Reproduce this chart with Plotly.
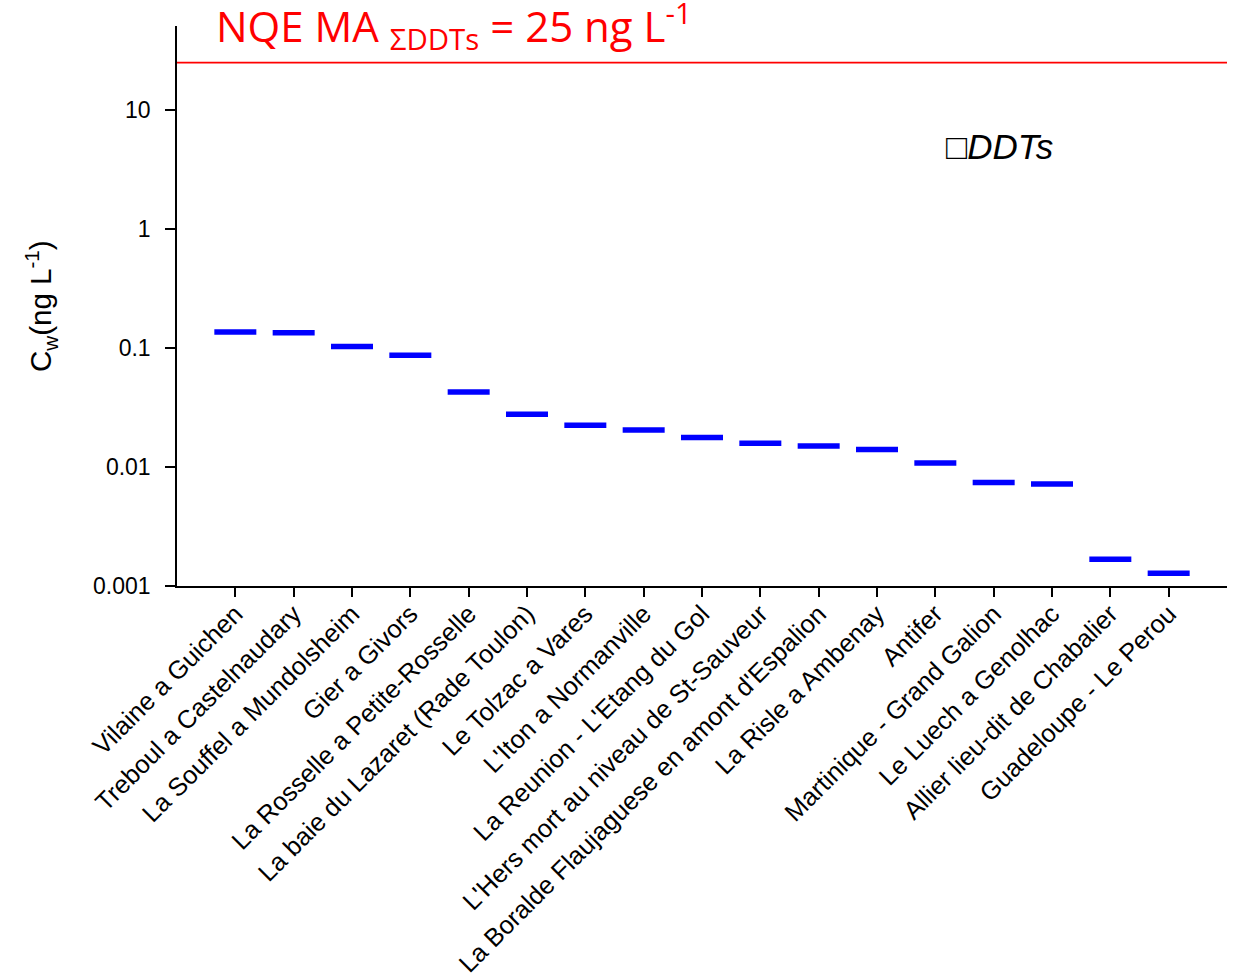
import plotly.graph_objects as go

sites = [
    "Vilaine a Guichen",
    "Treboul a Castelnaudary",
    "La Souffel a Mundolsheim",
    "Gier a Givors",
    "La Rosselle a Petite-Rosselle",
    "La baie du Lazaret (Rade Toulon)",
    "Le Tolzac a Vares",
    "L'Iton a Normanville",
    "La Reunion - L'Etang du Gol",
    "L'Hers mort au niveau de St-Sauveur",
    "La Boralde Flaujaguese en amont d'Espalion",
    "La Risle a Ambenay",
    "Antifer",
    "Martinique - Grand Galion",
    "Le Luech a Genolhac",
    "Allier lieu-dit de Chabalier",
    "Guadeloupe - Le Perou",
]
cw_ddts = [0.136, 0.134, 0.103, 0.0868, 0.0427, 0.0278, 0.0224, 0.0204, 0.0177,
           0.0158, 0.0150, 0.0140, 0.0108, 0.00741, 0.00721, 0.00168, 0.00128]
nqe_ma = 25
y_ticks = [0.001, 0.01, 0.1, 1, 10]
y_tick_text = ["0.001", "0.01", "0.1", "1", "10"]

FONT = "Liberation Sans, Arial, sans-serif"

fig = go.Figure()
fig.add_trace(go.Scatter(
    x=sites, y=cw_ddts, mode="markers",
    marker=dict(symbol="line-ew", size=30, color="#0000FF",
                line=dict(color="#0000FF", width=5.5)),
    showlegend=False, hoverinfo="x+y",
))

fig.add_shape(type="line", xref="paper", yref="y", x0=0, x1=1, y0=nqe_ma, y1=nqe_ma,
              line=dict(color="#FF0000", width=1.8))

fig.add_annotation(xref="paper", yref="paper", x=0.035, y=1.0, xanchor="left", yanchor="middle",
                   text="NQE MA <sub>ΣDDTs</sub> = 25 ng L<sup>-1</sup>", showarrow=False,
                   font=dict(family="Open Sans, sans-serif", size=42, color="#FF0000"))

fig.add_annotation(xref="paper", yref="paper", x=0.73, y=0.785, xanchor="left", yanchor="middle",
                   text="<i>□DDTs</i>", showarrow=False,
                   font=dict(family=FONT, size=35, color="#000000"))

fig.add_annotation(xref="paper", yref="paper", x=-0.1295, y=0.50, xanchor="center", yanchor="middle",
                   text="C<sub>w</sub>(ng L<sup>-1</sup>)", textangle=-90, showarrow=False,
                   font=dict(family=FONT, size=29.5, color="#000000"))

fig.update_layout(
    width=1235, height=977,
    margin=dict(l=177, r=8, t=26, b=391),
    plot_bgcolor="white", paper_bgcolor="white",
    font=dict(family=FONT, color="#000000"),
)
fig.update_xaxes(
    type="category", categoryorder="array", categoryarray=sites,
    range=[-1, 17], showgrid=False, zeroline=False, automargin=False,
    showline=True, linecolor="#000000", linewidth=1.5,
    ticks="outside", ticklen=9, tickwidth=1.5, tickcolor="#000000",
    tickangle=-45, ticklabelstandoff=-8,
    tickfont=dict(size=25.5, family=FONT, color="#000000"),
)
fig.update_yaxes(
    type="log", range=[-3, 1.705], showgrid=False, zeroline=False, automargin=False,
    showline=True, linecolor="#000000", linewidth=1.5,
    ticks="outside", ticklen=10, tickwidth=1.5, tickcolor="#000000",
    tickvals=y_ticks, ticktext=y_tick_text, ticklabelstandoff=10,
    tickfont=dict(size=23, family=FONT, color="#000000"),
)

fig.write_html("out.html", config={"displayModeBar": False},
               post_script="document.body.style.margin='0';")
